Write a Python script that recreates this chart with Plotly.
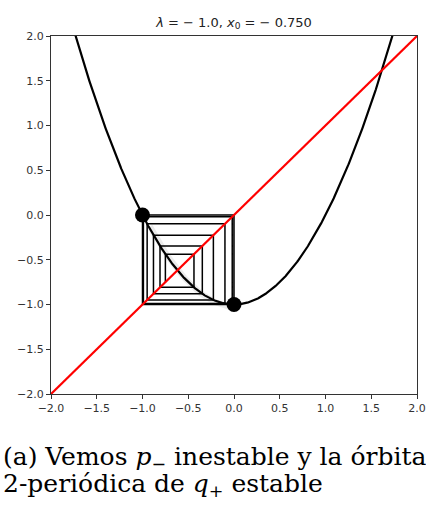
import numpy as np
import plotly.graph_objects as go

# Map parameters (as stated in the title)
lam = -1.0
x0 = -0.750
n_iter = 60

# Axis ticks
tick_vals = [-2.0, -1.5, -1.0, -0.5, 0.0, 0.5, 1.0, 1.5, 2.0]

# Period-2 orbit points of q+ (marked with dots)
cycle_x = [-1.0, 0.0]
cycle_y = [0.0, -1.0]


def f(x):
    return x * x + lam


# Parabola y = x^2 + lambda
xs = np.linspace(-2.0, 2.0, 801)
ys = f(xs)

# Cobweb path: vertical to the curve, horizontal to the diagonal
cx, cy = [x0], [x0]
x = x0
for _ in range(n_iter):
    y = f(x)
    cx += [x, y]
    cy += [y, y]
    x = y

fig = go.Figure()

# faint shading along the curve segment between the cycle points
seg = (xs >= -0.95) & (xs <= -0.05)
fig.add_trace(go.Scatter(x=xs[seg] + 0.03, y=ys[seg] - 0.03, mode="lines",
                         line=dict(color="rgba(0,0,0,0.08)", width=6),
                         hoverinfo="skip", showlegend=False))

fig.add_trace(go.Scatter(x=xs, y=ys, mode="lines",
                         line=dict(color="black", width=2.2),
                         showlegend=False))
fig.add_trace(go.Scatter(x=cx, y=cy, mode="lines",
                         line=dict(color="black", width=1.5),
                         showlegend=False))
fig.add_trace(go.Scatter(x=[-2.0, 2.0], y=[-2.0, 2.0], mode="lines",
                         line=dict(color="#ff0000", width=2.2),
                         showlegend=False))
fig.add_trace(go.Scatter(x=cycle_x, y=cycle_y, mode="markers",
                         marker=dict(color="black", size=15),
                         showlegend=False))

axis_common = dict(
    range=[-2.0, 2.0],
    tickvals=tick_vals,
    tickformat=".1f",
    automargin=False,
    showgrid=False,
    zeroline=False,
    showline=True,
    linecolor="#333333",
    linewidth=1,
    mirror=True,
    ticks="outside",
    ticklen=4,
    tickwidth=1,
    tickcolor="#333333",
    tickfont=dict(family="DejaVu Sans", size=11, color="#333333"),
)

W, H = 426, 506
L, R, T, B = 51, 9, 36, 112
PW, PH = W - L - R, H - T - B

caption_font = dict(family="DejaVu Serif", size=25, color="black")

fig.update_layout(
    width=W,
    height=H,
    margin=dict(l=L, r=R, t=T, b=B),
    paper_bgcolor="white",
    plot_bgcolor="white",
    xaxis=axis_common,
    yaxis=axis_common,
    title=dict(
        text="<i>λ</i> = − 1.0, <i>x</i><sub>0</sub> = − 0.750",
        x=(L + W - R) / 2 / W, xanchor="center",
        y=1 - 22 / H, yanchor="middle",
        font=dict(family="DejaVu Sans", size=13, color="#222222"),
    ),
    annotations=[
        dict(text="(a) Vemos <i>p</i><sub>−</sub> inestable y la órbita",
             xref="paper", yref="paper", x=-(L - 1) / PW, y=-(476 - (H - B)) / PH,
             xanchor="left", yanchor="bottom", showarrow=False,
             font=caption_font),
        dict(text="2-periódica de <i>q</i><sub>+</sub> estable",
             xref="paper", yref="paper", x=-(L - 1) / PW, y=-(503 - (H - B)) / PH,
             xanchor="left", yanchor="bottom", showarrow=False,
             font=caption_font),
    ],
)

fig.write_html("out.html")
